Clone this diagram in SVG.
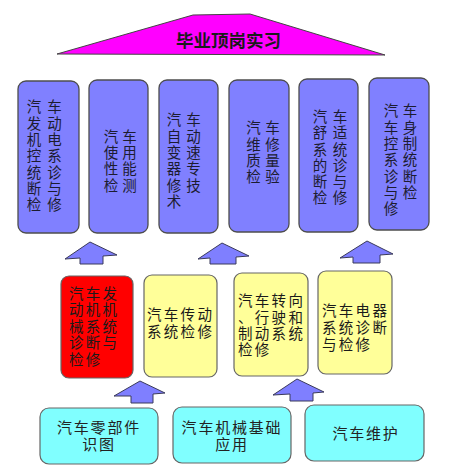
<svg xmlns="http://www.w3.org/2000/svg" width="464" height="475" viewBox="0 0 464 475">
<style>
text{font-family:"Liberation Sans","Noto Sans CJK SC","Noto Sans CJK JP",sans-serif;fill:#1a1a1a}
.top rect{fill:#8080FF;stroke:#4d4d4d;stroke-width:1.3}
.top text{font-size:14.5px;text-anchor:middle;fill:#1c1c30}
.mid rect{stroke:#666;stroke-width:1.2}
.mid text{font-size:14.5px;letter-spacing:2.3px}
.red rect{fill:#FF0000}
.yel rect{fill:#FFFF99}
.bot rect{fill:#80FFFF;stroke:#666;stroke-width:1.2}
.bot text{font-size:15px;letter-spacing:1.8px;text-anchor:middle;fill:#222}
.arr polygon{fill:#7F7FFF;stroke:#3a3a5a;stroke-width:1;stroke-linejoin:round}
</style>
<rect width="464" height="475" fill="#fff"/>

<g id="goal">
<polygon points="57,54 193,15 250,14 385,55" fill="#FF00FF" stroke="#444" stroke-width="1"/>
<text x="228.5" y="47" font-size="17.5" font-weight="bold" text-anchor="middle" fill="#000">毕业顶岗实习</text>
</g>

<g id="n1" class="top"><rect x="18" y="81" width="61" height="152" rx="8"/>
<text><tspan x="34 54.5" y="112.3">汽车</tspan><tspan x="34 54.5" y="128.6">发动</tspan><tspan x="34 54.5" y="144.9">机电</tspan><tspan x="34 54.5" y="161.2">控系</tspan><tspan x="34 54.5" y="177.5">统诊</tspan><tspan x="34 54.5" y="193.8">断与</tspan><tspan x="34 54.5" y="210.1">检修</tspan></text></g>

<g id="n2" class="top"><rect x="89" y="80" width="59" height="153" rx="8"/>
<text><tspan x="111 129.5" y="141.7">汽车</tspan><tspan x="111 129.5" y="158">使用</tspan><tspan x="111 129.5" y="174.3">性能</tspan><tspan x="111 129.5" y="190.6">检测</tspan></text></g>

<g id="n3" class="top"><rect x="159" y="80" width="59" height="153" rx="8"/>
<text><tspan x="174 193.5" y="125.4">汽车</tspan><tspan x="174 193.5" y="141.7">自动</tspan><tspan x="174 193.5" y="158">变速</tspan><tspan x="174 193.5" y="174.3">器专</tspan><tspan x="174 193.5" y="190.6">修技</tspan><tspan x="174" y="206.9">术</tspan></text></g>

<g id="n4" class="top"><rect x="229" y="80" width="60" height="152" rx="8"/>
<text><tspan x="253.5 272.5" y="133.2">汽车</tspan><tspan x="253.5 272.5" y="149.5">维修</tspan><tspan x="253.5 272.5" y="165.8">质量</tspan><tspan x="253.5 272.5" y="182.1">检验</tspan></text></g>

<g id="n5" class="top"><rect x="299" y="79" width="59" height="153" rx="8"/>
<text><tspan x="320 340" y="121.9">汽车</tspan><tspan x="320 340" y="138.2">舒适</tspan><tspan x="320 340" y="154.5">系统</tspan><tspan x="320 340" y="170.8">的诊</tspan><tspan x="320 340" y="187.1">断与</tspan><tspan x="320 340" y="203.4">检修</tspan></text></g>

<g id="n6" class="top"><rect x="369" y="78" width="60" height="152" rx="8"/>
<text><tspan x="391 410" y="116.3">汽车</tspan><tspan x="391 410" y="132.6">车身</tspan><tspan x="391 410" y="148.9">控制</tspan><tspan x="391 410" y="165.2">系统</tspan><tspan x="391 410" y="181.5">诊断</tspan><tspan x="391 410" y="197.8">与检</tspan><tspan x="391" y="214.1">修</tspan></text></g>

<g id="m1" class="mid red"><rect x="61" y="276" width="72" height="102" rx="8"/>
<text><tspan x="69" y="299">汽车发</tspan><tspan x="69" y="315.4">动机机</tspan><tspan x="69" y="331.8">械系统</tspan><tspan x="69" y="348.2">诊断与</tspan><tspan x="69" y="364.6">检修</tspan></text></g>

<g id="m2" class="mid yel"><rect x="144" y="275" width="73" height="102" rx="8"/>
<text><tspan x="147" y="319.5">汽车传动</tspan><tspan x="147" y="336.5">系统检修</tspan></text></g>

<g id="m3" class="mid yel"><rect x="234" y="273" width="74" height="103" rx="8"/>
<text><tspan x="238" y="306.2">汽车转向</tspan><tspan x="238" y="322.5">、行驶和</tspan><tspan x="238" y="338.8">制动系统</tspan><tspan x="238" y="355.1">检修</tspan></text></g>

<g id="m4" class="mid yel"><rect x="318" y="271" width="74" height="103" rx="8"/>
<text><tspan x="322" y="316.2">汽车电器</tspan><tspan x="322" y="332.9">系统诊断</tspan><tspan x="322" y="349.6">与检修</tspan></text></g>

<g id="b1" class="bot"><rect x="40" y="408" width="118" height="56" rx="9"/>
<text><tspan x="99" y="432.5">汽车零部件</tspan><tspan x="99" y="449.5">识图</tspan></text></g>

<g id="b2" class="bot"><rect x="173" y="407" width="118" height="56" rx="9"/>
<text><tspan x="232" y="432.5">汽车机械基础</tspan><tspan x="232" y="449.5">应用</tspan></text></g>

<g id="b3" class="bot"><rect x="305" y="405" width="119" height="56" rx="9"/>
<text x="366" y="438.5">汽车维护</text></g>

<g id="connectors" class="arr">
<polygon points="90,242 117,255 103,256 103,264 80,264 80,258 65,259"/>
<polygon points="222,243 249,256 236,257 236,264 210,264 210,258 198,259"/>
<polygon points="367,241 393,254 380,255 380,263 353,263 353,257 340,258"/>
<polygon points="140,381 165,393 153,394 153,403 131,403 131,396 114,396"/>
<polygon points="297,379 324,392 313,393 313,401 290,401 290,394 273,395"/>
</g>
</svg>
